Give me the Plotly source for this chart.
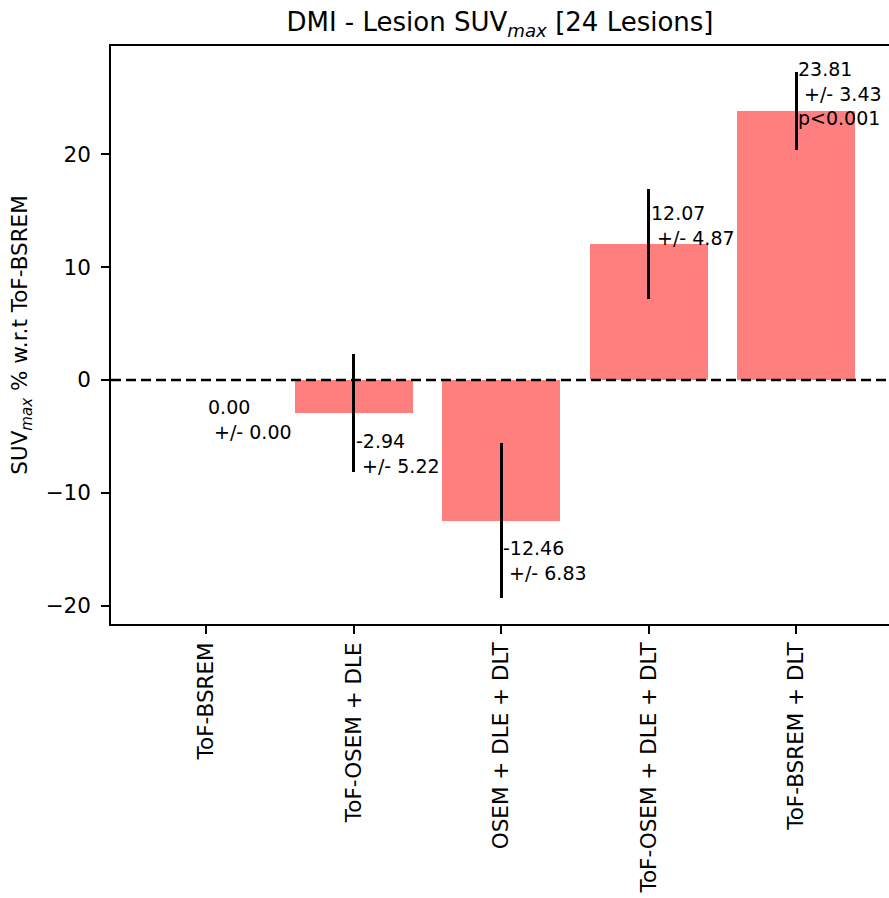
import plotly.graph_objects as go

# Reconstruction methods compared against the ToF-BSREM reference
methods = ["ToF-BSREM", "ToF-OSEM + DLE", "OSEM + DLE + DLT",
           "ToF-OSEM + DLE + DLT", "ToF-BSREM + DLT"]
mean_diff = [0.00, -2.94, -12.46, 12.07, 23.81]
std_diff = [0.00, 5.22, 6.83, 4.87, 3.43]
p_notes = ["", "", "", "", "p<0.001"]

y_ticks = [-20, -10, 0, 10, 20]

FONT = "DejaVu Sans"
x_idx = list(range(len(methods)))

fig = go.Figure()
fig.add_trace(go.Bar(
    x=x_idx, y=mean_diff, width=0.8,
    marker=dict(color="rgba(255,0,0,0.5)", line=dict(width=0)),
    error_y=dict(type="data", array=std_diff, visible=True,
                 color="black", thickness=3, width=0),
    showlegend=False, hoverinfo="skip",
))

# Zero reference line
fig.add_shape(type="line", xref="paper", x0=0, x1=1, yref="y", y0=0, y1=0,
              line=dict(color="black", width=2.5, dash="10px,5px"), layer="above")

# Value / spread labels next to each bar
for i, (m, s, p) in enumerate(zip(mean_diff, std_diff, p_notes)):
    lines = [f"{m:.2f}", f"\u00a0+/- {s:.2f}"]
    if p:
        lines.append(p)
    fig.add_annotation(
        x=i, y=m, xref="x", yref="y", text="<br>".join(lines),
        showarrow=False, xanchor="left", yanchor="middle", align="left",
        yshift=18 if m > 0 else -40,
        font=dict(family=FONT, size=19, color="black"),
    )

fig.update_layout(
    width=889, height=898,
    margin=dict(l=111, r=0, t=46, b=274),
    paper_bgcolor="white", plot_bgcolor="white",
    font=dict(family=FONT, size=21, color="black"),
    title=dict(text="DMI - Lesion SUV<sub><i>max</i></sub> [24 Lesions]",
               x=0.5, xref="paper", xanchor="center",
               y=1 - 22 / 898, yref="container", yanchor="middle",
               font=dict(family=FONT, size=26, color="black")),
    bargap=0,
)
fig.update_xaxes(
    range=[-0.645, 4.63], tickmode="array", tickvals=x_idx, ticktext=methods,
    tickangle=-90, ticks="outside", ticklen=8, tickwidth=1.5, tickcolor="black",
    showline=True, linecolor="black", linewidth=1.5, mirror=True,
    showgrid=False, zeroline=False,
    tickfont=dict(family=FONT, size=21.5, color="black"),
)
fig.update_yaxes(
    range=[-21.62, 29.57], tickmode="array", tickvals=y_ticks,
    ticks="outside", ticklen=8, tickwidth=1.5, tickcolor="black",
    ticklabelstandoff=6,
    showline=True, linecolor="black", linewidth=1.5, mirror=False,
    showgrid=False, zeroline=False,
    tickfont=dict(family=FONT, size=21.5, color="black"),
    title=dict(text="SUV<sub><i>max</i></sub> % w.r.t ToF-BSREM",
               font=dict(family=FONT, size=21.5, color="black"), standoff=12),
)

fig.write_html("out.html")
